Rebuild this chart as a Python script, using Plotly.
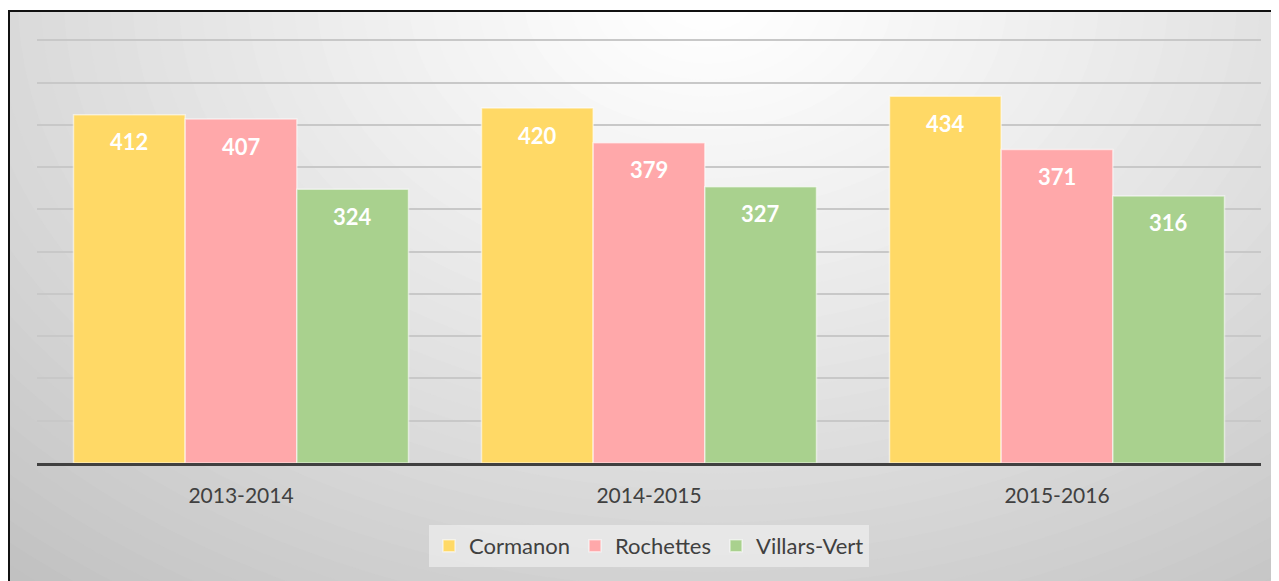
import plotly.graph_objects as go

# données
saisons = ["2013-2014", "2014-2015", "2015-2016"]
cormanon = [412, 420, 434]
rochettes = [407, 379, 371]
villars_vert = [324, 327, 316]
graduations = [50, 100, 150, 200, 250, 300, 350, 400, 450, 500]

series = [
    ("Cormanon", cormanon, "#FFD966"),
    ("Rochettes", rochettes, "#FFA8AA"),
    ("Villars-Vert", villars_vert, "#A9D18E"),
]

# la page ajoute une marge de 8 px : tout est décalé
W, H = 1279, 581
L, R, T, B = 29, 26, 24, 126
pw, ph = W - L - R, H - T - B

def px2paper(x, y):
    return (x - L) / pw, (H - B - y) / ph

fig = go.Figure()
bar_w = 0.2738
for k, (nom, vals, col) in enumerate(series):
    fig.add_trace(go.Bar(
        x=saisons, y=vals, name=nom,
        marker=dict(color=col, line=dict(color="rgba(255,255,255,0.55)", width=1.5)),
        hoverinfo="x+y+name",
    ))
    # étiquettes de valeur (intérieur, en haut)
    for i, v in enumerate(vals):
        fig.add_annotation(
            x=i + (k - 1) * bar_w, y=v, xref="x", yref="y",
            text=f"<b>{v}</b>", showarrow=False, yshift=-27,
            font=dict(family="Lato, Open Sans, sans-serif", size=22, color="white"),
        )

# fond dégradé radial (gris)
shapes = []
a0, b0 = px2paper(-10, H + 20)
a1, b1 = px2paper(W + 20, -10)
shapes.append(dict(type="rect", xref="paper", yref="paper", x0=a0, y0=b0, x1=a1, y1=b1,
                   fillcolor="rgb(188,188,188)", line=dict(width=0), layer="below"))
cx, cy = 700, -10
n = 50
for j in range(n):
    t = 1 - j / n
    rx, ry = 1150 * t, 820 * t
    g = int(round(255 - 67 * t ** 1.2))
    x0, y0 = px2paper(cx - rx, cy + ry)
    x1, y1 = px2paper(cx + rx, cy - ry)
    shapes.append(dict(type="circle", xref="paper", yref="paper", x0=x0, y0=y0, x1=x1, y1=y1,
                       fillcolor=f"rgb({g},{g},{g})", line=dict(width=0), layer="below"))
# bande blanche au-dessus du cadre
a0, b0 = px2paper(-10, -10)
a1, b1 = px2paper(W + 20, 2)
shapes.append(dict(type="rect", xref="paper", yref="paper", x0=a0, y0=b1, x1=a1, y1=b0,
                   fillcolor="white", line=dict(width=0), layer="below"))
# cadre noir
a0, b0 = px2paper(1, H + 10)
a1, b1 = px2paper(W + 10, 3)
shapes.append(dict(type="rect", xref="paper", yref="paper", x0=a0, y0=b0, x1=a1, y1=b1,
                   fillcolor="rgba(0,0,0,0)", line=dict(color="#111111", width=2), layer="above"))

fig.update_layout(
    width=W, height=H,
    margin=dict(l=L, r=R, t=T, b=B, pad=0),
    paper_bgcolor="white",
    plot_bgcolor="rgba(0,0,0,0)",
    barmode="group", bargap=0.179, bargroupgap=0,
    font=dict(family="Lato, Open Sans, sans-serif", color="#404040"),
    shapes=shapes,
    showlegend=True,
    legend=dict(
        orientation="h", x=0.5, xanchor="center", y=px2paper(0, 517)[1], yanchor="top",
        bgcolor="rgba(236,236,236,0.75)", font=dict(size=22, color="#404040"),
        itemwidth=30, traceorder="normal",
    ),
)
fig.update_xaxes(
    showline=True, linecolor="#404040", linewidth=3,
    ticks="outside", ticklen=12, tickcolor="rgba(0,0,0,0)",
    tickfont=dict(size=21, color="#404040"), showgrid=False,
)
fig.update_yaxes(
    range=[0, 510], tickvals=graduations,
    showticklabels=False,
    showgrid=True, gridcolor="#c8c8c8", gridwidth=1.5, zeroline=False,
)

fig.write_html("out.html")
